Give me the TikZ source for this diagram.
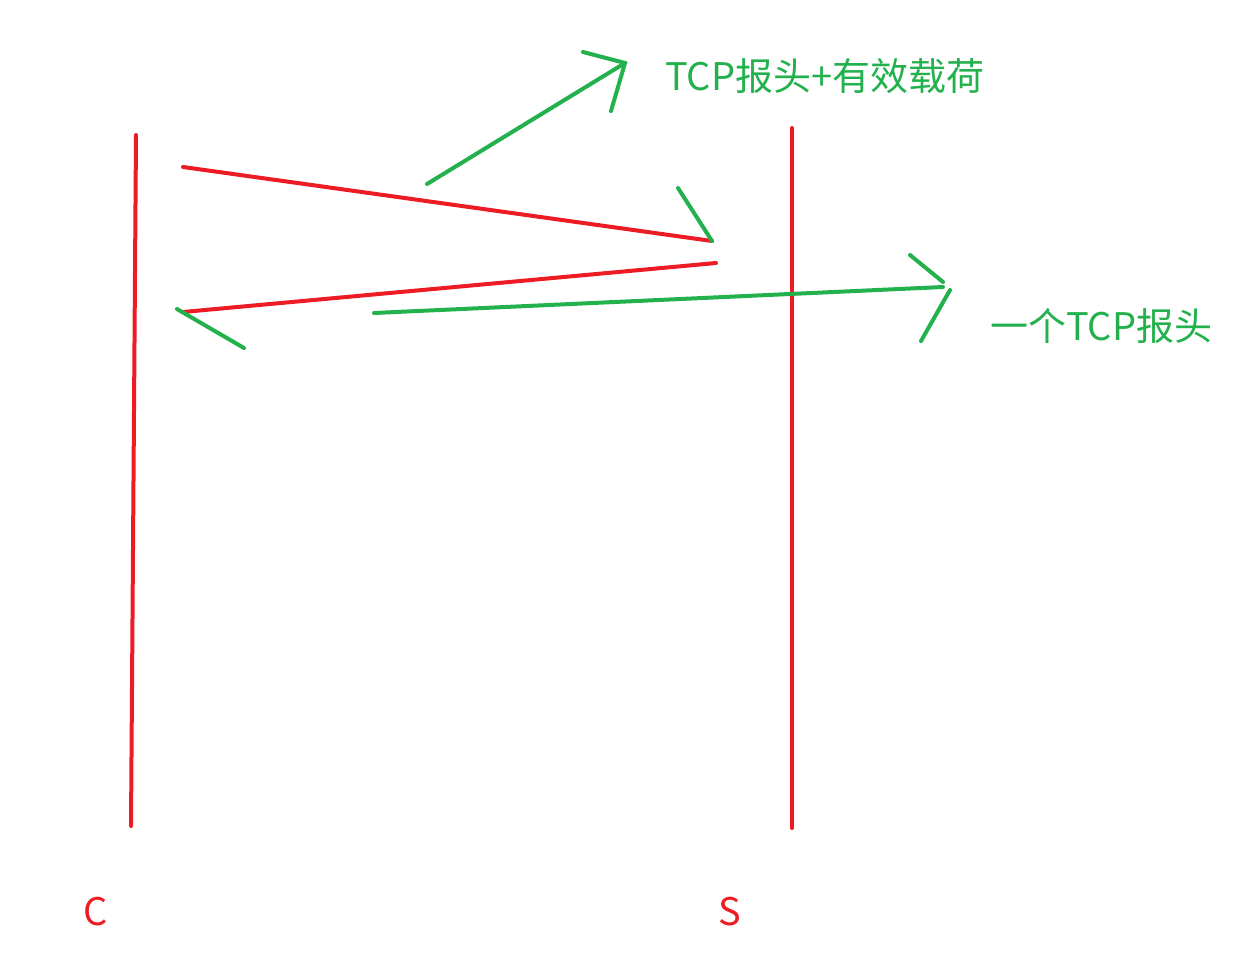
\documentclass[tikz,border=0pt]{standalone}
\usepackage{fontspec}
\setmainfont{Noto Sans CJK SC}
\definecolor{pred}{HTML}{ED1C24}
\definecolor{pgreen}{HTML}{22B14C}
\begin{document}
\begin{tikzpicture}[x=1pt,y=-1pt,
  redline/.style={draw=pred,line width=4pt,line cap=round},
  greenline/.style={draw=pgreen,line width=4pt,line cap=round},
  lbl/.style={font=\fontsize{38}{40}\selectfont,inner sep=0pt,anchor=west}]
\useasboundingbox (0,0) rectangle (1244,956);
% lifelines
\coordinate (c1) at (136,135);
\coordinate (c2) at (131,826);
\coordinate (s1) at (792,128);
\coordinate (s2) at (792,828);
\draw[redline] (c1) -- (c2);
\draw[redline] (s1) -- (s2);
% message 1 C -> S
\coordinate (m1a) at (183,167);
\coordinate (m1b) at (712,241);
\coordinate (h1) at (678,188);
\draw[redline] (m1a) -- (m1b);
\draw[greenline] (h1) -- (m1b);
% message 2 S -> C
\coordinate (m2a) at (716,263);
\coordinate (m2b) at (183,312);
\coordinate (h2a) at (177,309);
\coordinate (h2b) at (244,348);
\draw[redline] (m2a) -- (m2b);
\draw[greenline] (h2a) -- (h2b);
% annotation 1
\coordinate (a1s) at (427,184);
\coordinate (a1e) at (625,63);
\coordinate (a1h1) at (583,52);
\coordinate (a1h2) at (611,111);
\draw[greenline] (a1s) -- (a1e);
\draw[greenline] (a1h1) -- (a1e) -- (a1h2);
\node[lbl,text=pgreen] (t1) at (665,76) {TCP报头+有效载荷};
% annotation 2
\coordinate (a2s) at (374,313);
\coordinate (a2e) at (943,287);
\coordinate (a2h1) at (910,255);
\coordinate (a2h2) at (943,282);
\coordinate (a2h3) at (950,290);
\coordinate (a2h4) at (921,341);
\draw[greenline] (a2s) -- (a2e);
\draw[greenline] (a2h1) -- (a2h2);
\draw[greenline] (a2h3) -- (a2h4);
\node[lbl,text=pgreen] (t2) at (990,326) {一个TCP报头};
% labels
\node[lbl,text=pred,anchor=center] (lc) at (96,912) {C};
\node[lbl,text=pred,anchor=center] (ls) at (730,912) {S};
\end{tikzpicture}
\end{document}
